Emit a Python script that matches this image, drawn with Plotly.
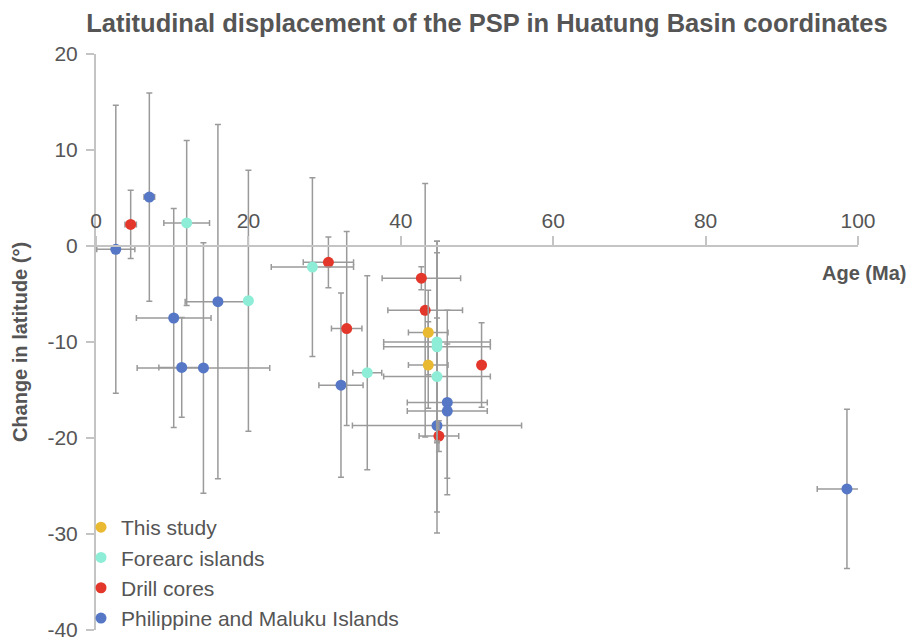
import plotly.graph_objects as go

# ---- data ----
series_names = ["This study", "Forearc islands", "Drill cores", "Philippine and Maluku Islands"]
series_colors = ["#E9B932", "#8EEDD6", "#E3372B", "#5577C5"]

this_x = [43.6, 43.6]
this_y = [-9.0, -12.4]
this_xerr = [2.6, 2.6]
this_yerr = [4.4, 4.5]

fore_x = [11.9, 20.0, 28.4, 35.6, 44.75, 44.75, 44.75]
fore_y = [2.4, -5.7, -2.2, -13.2, -10.0, -10.5, -13.6]
fore_xerr = [3.0, 0, 5.4, 1.9, 7.0, 7.0, 7.0]
fore_yerr = [8.6, 13.6, 9.3, 10.1, 10.5, 9.8, 14.1]

drill_x = [4.55, 30.5, 32.9, 42.7, 43.2, 50.6, 45.0]
drill_y = [2.25, -1.7, -8.6, -3.35, -6.7, -12.4, -19.8]
drill_xerr = [0.75, 3.3, 2.0, 5.15, 4.9, 0, 2.6]
drill_yerr = [3.55, 2.65, 10.1, 1.2, 13.2, 4.4, 1.6]

phil_x = [2.6, 7.0, 10.2, 11.25, 14.1, 16.0, 32.15, 44.75, 46.1, 46.1, 98.55]
phil_y = [-0.35, 5.1, -7.5, -12.65, -12.7, -5.8, -14.5, -18.7, -16.3, -17.2, -25.3]
phil_xerr = [2.5, 0.7, 4.9, 3.0, 8.7, 4.3, 2.9, 11.1, 5.25, 5.25, 3.9]
phil_yerr = [15.0, 10.85, 11.4, 5.2, 13.05, 18.45, 9.6, 11.2, 9.6, 7.0, 8.3]

x_ticks = [0, 20, 40, 60, 80, 100]
y_ticks = [20, 10, 0, -10, -20, -30, -40]

FONT = "Liberation Sans, Arial, sans-serif"
TXT = "#555555"
AXIS = "#c4c4c4"
ERR = "#9a9a9a"

# drawing order (later on top); legend order set by legendrank
data = [
    (series_names[3], series_colors[3], phil_x, phil_y, phil_xerr, phil_yerr, 4),
    (series_names[2], series_colors[2], drill_x, drill_y, drill_xerr, drill_yerr, 3),
    (series_names[1], series_colors[1], fore_x, fore_y, fore_xerr, fore_yerr, 2),
    (series_names[0], series_colors[0], this_x, this_y, this_xerr, this_yerr, 1),
]

fig = go.Figure()
for name, col, xs, ys, xe, ye, rank in data:
    fig.add_trace(go.Scatter(
        x=xs, y=ys, mode="markers", name=name, legendrank=rank,
        marker=dict(color=col, size=11, line=dict(width=0)),
        error_x=dict(type="data", array=xe, color=ERR, thickness=1.5, width=3),
        error_y=dict(type="data", array=ye, color=ERR, thickness=1.5, width=3),
    ))

W, H = 911, 629          # page body adds an 8px offset
PL, PT, PR, PB = 88, 46, 850, 622   # plot area in figure pixels
pw, ph = PR - PL, PB - PT

fig.update_layout(
    width=W, height=H,
    margin=dict(l=PL, r=W - PR, t=PT, b=H - PB, autoexpand=False),
    paper_bgcolor="white", plot_bgcolor="white",
    font=dict(family=FONT, color=TXT, size=21),
    title=dict(text="<b>Latitudinal displacement of the PSP in Huatung Basin coordinates</b>",
               x=479 / W, xanchor="center", xref="container",
               y=1 - 15 / H, yanchor="middle", yref="container",
               font=dict(size=25.5, color=TXT, family=FONT)),
    showlegend=True,
    legend=dict(x=-15 / pw, xanchor="left", y=-9 / ph, yanchor="bottom",
                traceorder="normal",
                font=dict(size=21, color=TXT, family=FONT),
                bgcolor="rgba(0,0,0,0)"),
    xaxis=dict(range=[0, 100], tickvals=x_ticks, ticktext=[str(v) for v in x_ticks],
               anchor="free", position=2 / 3, side="top", automargin=False,
               showline=True, linecolor=AXIS, linewidth=2,
               ticks="outside", ticklen=9, tickcolor=AXIS, tickwidth=2,
               showgrid=False, zeroline=False,
               tickfont=dict(size=21, color=TXT)),
    yaxis=dict(range=[-40, 20], tickvals=y_ticks, ticktext=[str(v) for v in y_ticks],
               automargin=False, ticklabeloverflow="allow",
               showline=True, linecolor=AXIS, linewidth=2,
               ticks="outside", ticklen=8, tickcolor=AXIS, tickwidth=2,
               ticklabelstandoff=4,
               showgrid=False, zeroline=False,
               tickfont=dict(size=21, color=TXT),
               title=dict(text="<b>Change in latitude (°)</b>", standoff=14,
                          font=dict(size=20, color=TXT))),
    annotations=[dict(text="<b>Age (Ma)</b>", xref="paper", yref="paper",
                      x=1 + 50 / pw, xanchor="right",
                      y=2 / 3 - 27 / ph, yanchor="middle",
                      showarrow=False, font=dict(size=20, color=TXT, family=FONT))],
)

fig.write_html("out.html")
